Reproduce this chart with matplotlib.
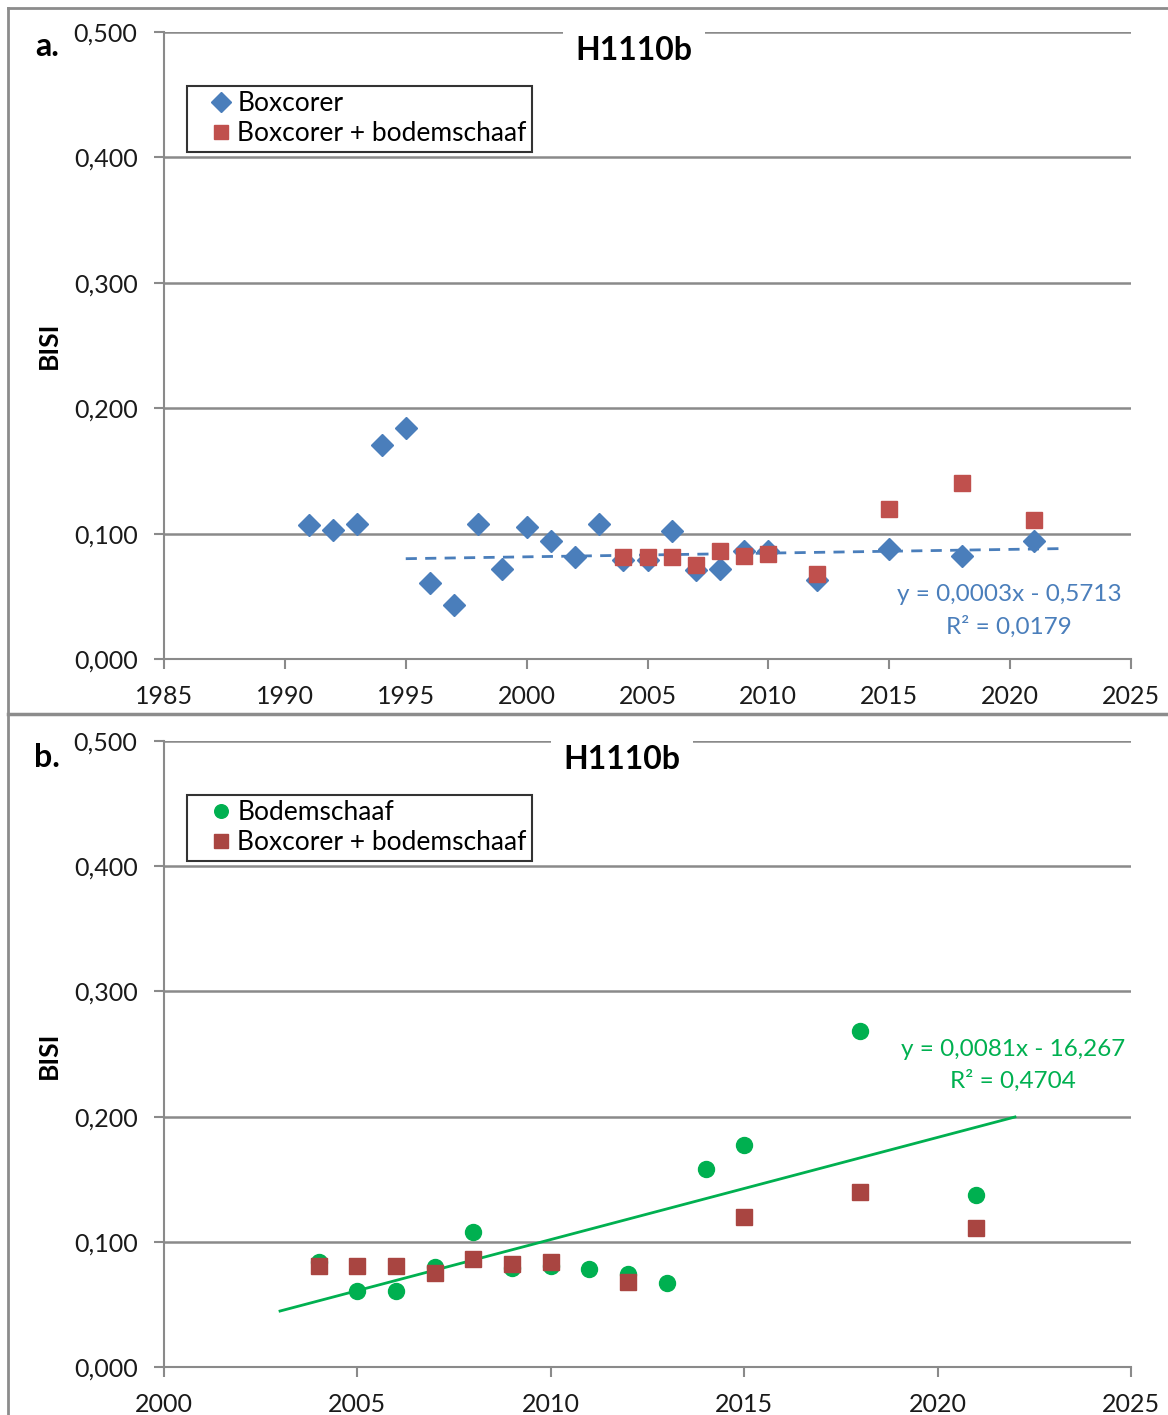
import matplotlib
matplotlib.use("Agg")
import matplotlib.pyplot as plt
from matplotlib.lines import Line2D
from matplotlib.ticker import FuncFormatter, MultipleLocator

plt.rcParams['font.family'] = ['Lato', 'DejaVu Sans']

# ---- data panel a ----
box_years = [1991, 1992, 1993, 1994, 1995, 1996, 1997, 1998, 1999, 2000, 2001, 2002,
             2003, 2004, 2005, 2006, 2007, 2008, 2009, 2010, 2012, 2015, 2018, 2021]
box_vals = [0.107, 0.103, 0.108, 0.171, 0.184, 0.061, 0.043, 0.108, 0.072, 0.105, 0.094, 0.081,
            0.108, 0.079, 0.079, 0.102, 0.071, 0.072, 0.086, 0.086, 0.063, 0.088, 0.082, 0.094]
comb_years = [2004, 2005, 2006, 2007, 2008, 2009, 2010, 2012, 2015, 2018, 2021]
comb_vals = [0.081, 0.081, 0.081, 0.075, 0.086, 0.082, 0.084, 0.068, 0.120, 0.140, 0.111]
trend_a_x = [1995, 2022]
trend_a_y = [0.080, 0.088]

# ---- data panel b ----
bod_years = [2004, 2005, 2006, 2007, 2008, 2009, 2010, 2011, 2012, 2013, 2014, 2015, 2018, 2021]
bod_vals = [0.084, 0.061, 0.061, 0.080, 0.108, 0.079, 0.081, 0.078, 0.074, 0.067, 0.158, 0.177, 0.268, 0.137]
trend_b_x = [2003, 2022]
trend_b_y = [0.0447, 0.1997]

y_ticks = [0.0, 0.1, 0.2, 0.3, 0.4, 0.5]

BLUE = '#4A7EBB'
RED_A = '#C0504D'
RED_B = '#A94541'
GREEN = '#00B050'
GRID = '#8A8A8A'

W, H = 1168, 1415
fig = plt.figure(figsize=(W / 100, H / 100), dpi=100)

ax_a = fig.add_axes([164 / W, 1 - 659 / H, 967 / W, 627 / H])
ax_b = fig.add_axes([164 / W, 1 - 1367 / H, 967 / W, 626 / H])

fmt = FuncFormatter(lambda v, p: f"{v:.3f}".replace('.', ','))


def style(ax, xlim):
    ax.set_xlim(*xlim)
    ax.set_ylim(0, 0.5)
    ax.set_yticks(y_ticks)
    ax.yaxis.set_major_formatter(fmt)
    ax.xaxis.set_major_locator(MultipleLocator(5))
    ax.grid(axis='y', color=GRID, lw=1.8)
    ax.set_axisbelow(True)
    for s in ['top', 'right']:
        ax.spines[s].set_visible(False)
    for s in ['left', 'bottom']:
        ax.spines[s].set_color(GRID)
        ax.spines[s].set_linewidth(1.5)
    ax.tick_params(axis='both', colors=GRID, labelcolor='#1a1a1a', labelsize=18,
                   length=7, width=1.5, direction='out')
    ax.tick_params(axis='y', pad=12)
    ax.tick_params(axis='x', pad=12)
    ax.set_ylabel('BISI', fontsize=19, fontweight='bold', labelpad=0)


def add_legend(ax):
    leg = ax.legend(loc='upper left', bbox_to_anchor=(0.0238, 0.914), borderaxespad=0,
                    fontsize=19, frameon=True, fancybox=False, edgecolor='black',
                    handletextpad=-0.5, handlelength=2.2, borderpad=0.2, labelspacing=0.2,
                    markerscale=0.85)
    leg.get_frame().set_linewidth(1.5)
    return leg


# panel a
style(ax_a, (1985, 2025))
ax_a.plot(trend_a_x, trend_a_y, ls=(0, (4, 3)), color=BLUE, lw=2, zorder=2)
ax_a.plot(box_years, box_vals, ls='none', marker='D', ms=11.5, color=BLUE,
          mec=BLUE, label='Boxcorer', zorder=3)
ax_a.plot(comb_years, comb_vals, ls='none', marker='s', ms=11.5, color=RED_A,
          mec=RED_A, label='Boxcorer + bodemschaaf', zorder=4)
ax_a.text(0.874, 0.0766, 'y = 0,0003x - 0,5713\nR² = 0,0179', transform=ax_a.transAxes,
          ha='center', va='center', multialignment='center', color=BLUE, fontsize=17.5,
          linespacing=1.55)
add_legend(ax_a)
ax_a.text(0.486, 0.971, 'H1110b', transform=ax_a.transAxes, ha='center', va='center',
          fontsize=23, fontweight='bold', zorder=5,
          bbox=dict(facecolor='white', edgecolor='none', pad=9))

# panel b
style(ax_b, (2000, 2025))
ax_b.plot(trend_b_x, trend_b_y, ls='-', color=GREEN, lw=2, zorder=2)
ax_b.plot(bod_years, bod_vals, ls='none', marker='o', ms=11.5, color=GREEN,
          mec=GREEN, label='Bodemschaaf', zorder=3)
ax_b.plot(comb_years, comb_vals, ls='none', marker='s', ms=11.5, color=RED_B,
          mec=RED_B, label='Boxcorer + bodemschaaf', zorder=4)
ax_b.text(0.878, 0.482, 'y = 0,0081x - 16,267\nR² = 0,4704', transform=ax_b.transAxes,
          ha='center', va='center', multialignment='center', color=GREEN, fontsize=17.5,
          linespacing=1.55)
add_legend(ax_b)
ax_b.text(0.474, 0.971, 'H1110b', transform=ax_b.transAxes, ha='center', va='center',
          fontsize=23, fontweight='bold', zorder=5,
          bbox=dict(facecolor='white', edgecolor='none', pad=9))

# panel labels
fig.text(47 / W, 1 - 47 / H, 'a.', fontsize=23, fontweight='bold', ha='center', va='center')
fig.text(47 / W, 1 - 757 / H, 'b.', fontsize=23, fontweight='bold', ha='center', va='center')

ax_a.yaxis.set_label_coords((61 - 164) / 967, (659 - 345) / 627)
ax_b.yaxis.set_label_coords((61 - 164) / 967, (1367 - 1055) / 626)

# figure borders
bc = '#8C8C8C'
fig.add_artist(Line2D([8 / W, 1.0], [1 - 8 / H, 1 - 8 / H], color=bc, lw=2, transform=fig.transFigure))
fig.add_artist(Line2D([8 / W, 8 / W], [0, 1 - 8 / H], color=bc, lw=2, transform=fig.transFigure))
fig.add_artist(Line2D([8 / W, 1.0], [1 - 714 / H, 1 - 714 / H], color=bc, lw=2.5, transform=fig.transFigure))

fig.savefig('out.png', dpi=100, facecolor='white')
